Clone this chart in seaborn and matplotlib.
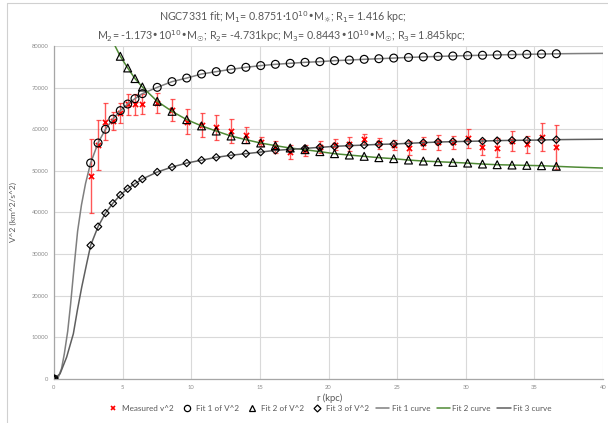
import numpy as np
import pandas as pd
import matplotlib
matplotlib.use("Agg")
import matplotlib.pyplot as plt
from matplotlib.lines import Line2D
import seaborn as sns

# ---------------- data ----------------
r_kpc = [2.67, 3.21, 3.75, 4.29, 4.83, 5.37, 5.90, 6.44, 7.52, 8.60, 9.67, 10.75,
         11.82, 12.90, 13.98, 15.06, 16.13, 17.21, 18.29, 19.37, 20.44, 21.52,
         22.60, 23.67, 24.75, 25.83, 26.91, 27.98, 29.06, 30.14, 31.22, 32.29,
         33.37, 34.45, 35.52, 36.60]

measured_v2 = [48800, 56130, 61800, 62000, 63900, 65950, 66000, 66000, 66300, 64600,
               61800, 61100, 60500, 59500, 58600, 57050, 55740, 54620, 54930, 55740,
               56250, 56410, 57740, 56620, 56300, 55500, 56730, 56820, 56860, 57780,
               55820, 55610, 57100, 56370, 58140, 55650]
measured_err = [8900, 6000, 4500, 2100, 2400, 2600, 2500, 2400, 2500, 2600,
                3000, 2900, 3000, 2900, 2000, 1100, 1360, 1680, 1370, 1360,
                1320, 1720, 1200, 1280, 1200, 1600, 1400, 1720, 1500, 2200,
                1920, 2290, 2400, 2000, 3450, 5290]

fit1_v2 = [51900, 56700, 60000, 62450, 64470, 66060, 67350, 68550, 70070, 71440,
           72300, 73270, 73840, 74400, 74880, 75290, 75600, 75840, 76080, 76240,
           76480, 76630, 76800, 76950, 77100, 77250, 77380, 77500, 77600, 77700,
           77780, 77860, 77930, 78000, 78070, 78130]
fit2_v2 = [np.nan, np.nan, np.nan, np.nan, 77530, 74720, 72170, 70150, 66710, 64300,
           62310, 60800, 59570, 58370, 57500, 56690, 56060, 55490, 55090, 54620,
           54130, 53800, 53490, 53170, 52930, 52600, 52360, 52200, 52040, 51870,
           51640, 51480, 51400, 51320, 51240, 51090]
fit3_v2 = [32100, 36600, 39860, 42220, 44190, 45720, 46920, 48040, 49720, 50920,
           51880, 52570, 53250, 53760, 54130, 54520, 54930, 55170, 55410, 55650,
           55890, 56060, 56200, 56370, 56450, 56620, 56780, 56930, 57020, 57100,
           57170, 57270, 57330, 57370, 57410, 57500]

# smooth model curves
curve1_r = [0, 0.31, 0.55, 0.75, 1.0, 1.21, 1.48, 1.72, 2.0, 2.3] + r_kpc + [38.0, 40.0]
curve1_v2 = [0, 400, 2500, 6000, 11500, 18000, 27500, 35500, 41800, 47000] + fit1_v2 + [78180, 78230]
curve2_r = [4.0, 4.45] + r_kpc[4:] + [38.0, 40.0]
curve2_v2 = [84000, 80000] + fit2_v2[4:] + [50900, 50680]
curve3_r = [0, 0.44, 0.92, 1.41, 1.70, 2.02, 2.38] + r_kpc + [38.0, 40.0]
curve3_v2 = [0, 1250, 5240, 10870, 16470, 22070, 27700] + fit3_v2 + [57550, 57600]

x_ticks = [0, 5, 10, 15, 20, 25, 30, 35, 40]
y_ticks = [0, 10000, 20000, 30000, 40000, 50000, 60000, 70000, 80000]

title1 = "NGC7331 fit; M$_1$= 0.8751·10$^{10}$•M$_{☼}$; R$_1$= 1.416 kpc;"
title2 = ("M$_2$= -1.173•10$^{10}$•M$_{☉}$; R$_2$= -4.731kpc; "
          "M$_3$= 0.8443•10$^{10}$•M$_{☉}$; R$_3$= 1.845kpc;")

# ---------------- style ----------------
sns.set_theme(style="white")
plt.rcParams['font.family'] = ['Lato', 'DejaVu Sans']
plt.rcParams['mathtext.fontset'] = 'dejavusans'

TXT = '#595959'
GRID = '#d9d9d9'
C1 = '#7f7f7f'
C2 = '#4f8a35'
C3 = '#5f5f5f'

fig = plt.figure(figsize=(6.08, 4.23), dpi=100)
ax = fig.add_axes([54 / 608, 1 - 379 / 423, (603 - 54) / 608, (379 - 46) / 423])

# error bars of measurements
ax.errorbar(r_kpc, measured_v2, yerr=measured_err, fmt='none', ecolor='#ff2020',
            elinewidth=1.0, capsize=1.8, capthick=0.9, alpha=0.75, zorder=3)
df_m = pd.DataFrame({'r': r_kpc, 'v2': measured_v2})
sns.scatterplot(data=df_m, x='r', y='v2', marker='x', color='#ff0000', s=14,
                linewidth=1.2, ax=ax, zorder=4, legend=False)

# fit markers (include origin point)
df1 = pd.DataFrame({'r': [0] + r_kpc, 'v2': [0] + fit1_v2})
df2 = pd.DataFrame({'r': [0] + r_kpc, 'v2': [0] + fit2_v2}).dropna()
df3 = pd.DataFrame({'r': [0] + r_kpc, 'v2': [0] + fit3_v2})

# curves
sns.lineplot(x=curve1_r, y=curve1_v2, color=C1, lw=1.1, ax=ax, zorder=5, sort=False)
sns.lineplot(x=curve2_r, y=curve2_v2, color=C2, lw=1.1, ax=ax, zorder=5, sort=False)
sns.lineplot(x=curve3_r, y=curve3_v2, color=C3, lw=1.1, ax=ax, zorder=5, sort=False)

sns.scatterplot(data=df1, x='r', y='v2', marker='o', s=32, facecolor='none',
                edgecolor='black', linewidth=0.85, ax=ax, zorder=6, legend=False)
sns.scatterplot(data=df2, x='r', y='v2', marker='^', s=32, facecolor='none',
                edgecolor='black', linewidth=0.85, ax=ax, zorder=6, legend=False)
sns.scatterplot(data=df3, x='r', y='v2', marker='D', s=14, facecolor='none',
                edgecolor='black', linewidth=0.85, ax=ax, zorder=6, legend=False)

ax.set_xlim(0, 40)
ax.set_ylim(0, 80000)
ax.set_xticks(x_ticks)
ax.set_yticks(y_ticks)
ax.set_xticklabels([str(t) for t in x_ticks])
ax.set_yticklabels([str(t) for t in y_ticks])
ax.tick_params(axis='both', length=0, labelsize=4.2, labelcolor='#8c8c8c', pad=4)
ax.grid(True, color=GRID, lw=0.8)
ax.set_axisbelow(True)
for s in ['top', 'right']:
    ax.spines[s].set_visible(False)
for s in ['left', 'bottom']:
    ax.spines[s].set_color('#a6a6a6')
    ax.spines[s].set_linewidth(0.9)
ax.set_xlabel('')
ax.set_ylabel('')

fig.text(330 / 608, 1 - 398 / 423, 'r (kpc)', ha='center', va='center',
         fontsize=6.8, color=TXT)
fig.text(13 / 608, 1 - 212 / 423, 'V^2 (km^2/s^2)', ha='center', va='center',
         rotation=90, fontsize=6.0, color=TXT)

fig.text(283 / 608, 1 - 17 / 423, title1, ha='center', va='center', fontsize=7.7, color=TXT)
fig.text(281 / 608, 1 - 36 / 423, title2, ha='center', va='center', fontsize=7.7, color=TXT)

# chart-area border (left and top edges visible)
fig.add_artist(Line2D([7 / 608, 7 / 608], [0, 1 - 3 / 423], color='#d0d0d0', lw=0.8))
fig.add_artist(Line2D([7 / 608, 1], [1 - 3 / 423, 1 - 3 / 423], color='#d0d0d0', lw=0.8))

handles = [
    Line2D([], [], ls='none', marker='x', color='#ff0000', ms=3.5, mew=1.2),
    Line2D([], [], ls='none', marker='o', mfc='none', mec='black', ms=4.5, mew=0.9),
    Line2D([], [], ls='none', marker='^', mfc='none', mec='black', ms=4.5, mew=0.9),
    Line2D([], [], ls='none', marker='D', mfc='none', mec='black', ms=3.5, mew=0.9),
    Line2D([], [], color=C1, lw=1.1),
    Line2D([], [], color=C2, lw=1.1),
    Line2D([], [], color=C3, lw=1.1),
]
labels = ['Measured v^2', 'Fit 1 of V^2', 'Fit 2 of V^2', 'Fit 3 of V^2',
          'Fit 1 curve', 'Fit 2 curve', 'Fit 3 curve']
leg = fig.legend(handles, labels, loc='center', bbox_to_anchor=(329 / 608, 1 - 408 / 423),
                 ncol=7, frameon=False, fontsize=5.9, handlelength=1.6,
                 handletextpad=0.3, columnspacing=0.8, labelcolor=TXT)

fig.savefig('out.png', dpi=100)
